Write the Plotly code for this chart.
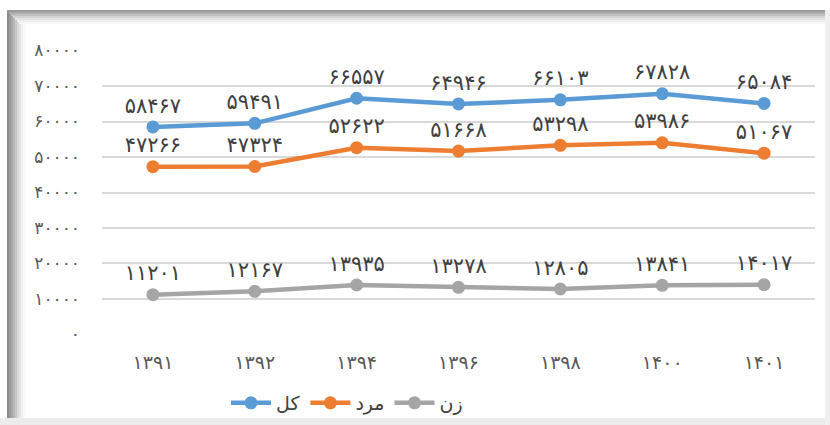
import plotly.graph_objects as go

years = ["1391", "1392", "1394", "1396", "1398", "1400", "1401"]
total = [58467, 59491, 66557, 64946, 66103, 67828, 65084]
men = [47266, 47324, 52622, 51668, 53298, 53986, 51067]
women = [11201, 12167, 13935, 13278, 12805, 13841, 14017]
y_ticks = [0, 10000, 20000, 30000, 40000, 50000, 60000, 70000, 80000]

FA = str.maketrans("0123456789", "۰۱۲۳۴۵۶۷۸۹")
def fa(v):
    return str(v).translate(FA)

x_labels = [fa(y) for y in years]

W, H = 830, 425
L, R, T, B = 102, 815, 50, 335
def px(x):
    return (x - L) / (R - L)
def py(y):
    return (B - y) / (B - T)

fig = go.Figure()
series = [("کل", total, "#5B9BD5"), ("مرد", men, "#ED7D31"), ("زن", women, "#A5A5A5")]
for name, vals, col in series:
    fig.add_trace(go.Scatter(
        x=x_labels, y=vals, name=name, mode="lines+markers+text",
        line=dict(color=col, width=4.5),
        marker=dict(color=col, size=13),
        text=[fa(v) for v in vals], textposition="top center",
        textfont=dict(family="DejaVu Sans", size=21, color="#404040"),
        cliponaxis=False,
    ))

shapes = []
left_cols = ["#8c8c8c", "#9a9a9a", "#a8a8a8", "#b8b8b8", "#c8c8c8", "#d8d8d8", "#e6e6e6", "#f2f2f2", "#f9f9f9"]
for i, c in enumerate(left_cols):
    x0 = 7 + i * 2
    shapes.append(dict(type="rect", xref="paper", yref="paper", x0=px(x0), x1=px(x0 + 2),
                       y0=py(418), y1=py(12 + i), fillcolor=c, line=dict(width=0), layer="below"))
top_cols = ["#9a9a9a", "#adadad", "#c0c0c0", "#d3d3d3", "#e3e3e3", "#efefef", "#f7f7f7"]
for i, c in enumerate(top_cols):
    y0 = 10 + i * 2
    shapes.append(dict(type="rect", xref="paper", yref="paper", x0=px(7 + i * 2), x1=px(826),
                       y0=py(y0 + 2), y1=py(y0), fillcolor=c, line=dict(width=0), layer="below"))
shapes.append(dict(type="rect", xref="paper", yref="paper", x0=px(0), x1=px(830),
                   y0=py(425), y1=py(418), fillcolor="#ececec", line=dict(width=0), layer="below"))
shapes.append(dict(type="rect", xref="paper", yref="paper", x0=px(825), x1=px(830),
                   y0=py(425), y1=py(10), fillcolor="#f0f0f0", line=dict(width=0), layer="below"))

fig.update_layout(
    width=W, height=H,
    margin=dict(l=L, r=W - R, t=T, b=H - B, autoexpand=False),
    paper_bgcolor="white", plot_bgcolor="white",
    showlegend=True,
    legend=dict(orientation="h", x=px(226), y=py(384), xanchor="left", yanchor="top",
                bgcolor="rgba(0,0,0,0)",
                font=dict(family="DejaVu Sans", size=19, color="#404040"),
                itemwidth=40, tracegroupgap=0, traceorder="normal"),
    shapes=shapes,
    font=dict(family="DejaVu Sans"),
)
fig.update_xaxes(range=[-0.5, 6.5], showgrid=False, showline=False, zeroline=False, ticks="",
                 ticklabelstandoff=14,
                 tickfont=dict(family="DejaVu Sans", size=19, color="#595959"))
fig.update_yaxes(range=[-150, 80150], tickvals=y_ticks, ticktext=[fa(v) for v in y_ticks],
                 showgrid=True, gridcolor="#d9d9d9", gridwidth=1.5, zeroline=False,
                 ticks="", ticklabelstandoff=21,
                 tickfont=dict(family="DejaVu Sans", size=17, color="#595959"))

fig.write_html("out.html", config={"displayModeBar": False},
               post_script="document.body.style.margin='0';document.body.style.overflow='hidden';")
